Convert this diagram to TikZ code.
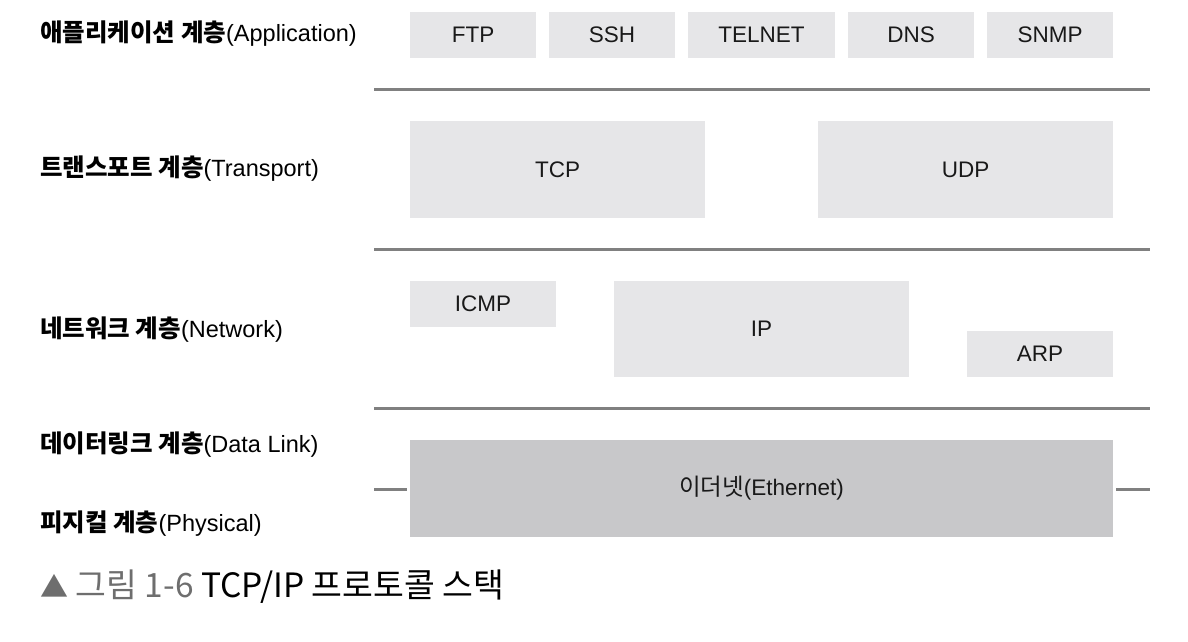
\documentclass[tikz,border=0pt]{standalone}
\usepackage{fontspec}
\setmainfont{Liberation Sans}
\newfontfamily\kr{Noto Sans CJK KR}
\definecolor{boxlight}{HTML}{E6E6E8}
\definecolor{boxdark}{HTML}{C8C8CA}
\definecolor{rule}{HTML}{808080}
\definecolor{capgrey}{HTML}{6E6E6E}
\begin{document}
\begin{tikzpicture}[x=1pt,y=-1pt,
  lbox/.style={fill=boxlight, draw=none, inner sep=0pt, font=\fontsize{22.5}{26}\selectfont, text=black!90},
  dbox/.style={fill=boxdark, draw=none, inner sep=0pt, font=\fontsize{22.5}{26}\selectfont, text=black!90},
  sep/.style={draw=rule, line width=3pt},
  lay/.style={anchor=west, inner sep=0pt, font=\fontsize{23.5}{26}\selectfont}]
\useasboundingbox (0,0) rectangle (1188,642);
% application
\node[lbox, minimum width=126pt, minimum height=46pt] (ftp) at (473,35) {FTP};
\node[lbox, minimum width=126pt, minimum height=46pt] (ssh) at (612,35) {SSH};
\node[lbox, minimum width=147pt, minimum height=46pt] (telnet) at (761.5,35) {TELNET};
\node[lbox, minimum width=126pt, minimum height=46pt] (dns) at (911,35) {DNS};
\node[lbox, minimum width=126pt, minimum height=46pt] (snmp) at (1050,35) {SNMP};
% transport
\node[lbox, minimum width=295pt, minimum height=97pt] (tcp) at (557.5,169.5) {TCP};
\node[lbox, minimum width=295pt, minimum height=97pt] (udp) at (965.5,169.5) {UDP};
% network
\node[lbox, minimum width=146pt, minimum height=46pt] (icmp) at (483,304) {ICMP};
\node[lbox, minimum width=295pt, minimum height=96pt] (ip) at (761.5,329) {IP};
\node[lbox, minimum width=146pt, minimum height=46pt] (arp) at (1040,354) {ARP};
% link
\node[dbox, minimum width=703pt, minimum height=97pt] (eth) at (761.5,488.5) {{\kr\fontsize{23.5}{26}\selectfont 이더넷}(Ethernet)};
% separators
\coordinate (l1a) at (374,89); \coordinate (l1b) at (1150,89);
\coordinate (l2a) at (374,249); \coordinate (l2b) at (1150,249);
\coordinate (l3a) at (374,408); \coordinate (l3b) at (1150,408);
\coordinate (e1) at (374,489); \coordinate (e2) at (1150,489);
\draw[sep] (l1a) -- (l1b);
\draw[sep] (l2a) -- (l2b);
\draw[sep] (l3a) -- (l3b);
\draw[sep] (e1) -- ([xshift=-3pt]eth.west |- e1);
\draw[sep] ([xshift=3pt]eth.east |- e2) -- (e2);
% layer labels
\node[lay] (la) at (40,34) {{\kr\bfseries\fontsize{24.5}{26}\selectfont 애플리케이션 계층}(Application)};
\node[lay] (lt) at (40,169) {{\kr\bfseries\fontsize{24.5}{26}\selectfont 트랜스포트 계층}(Transport)};
\node[lay] (ln) at (40,330) {{\kr\bfseries\fontsize{24.5}{26}\selectfont 네트워크 계층}(Network)};
\node[lay] (ld) at (40,445) {{\kr\bfseries\fontsize{24.5}{26}\selectfont 데이터링크 계층}(Data Link)};
\node[lay] (lp) at (40,524) {{\kr\bfseries\fontsize{24.5}{26}\selectfont 피지컬 계층}(Physical)};
% caption
\node[anchor=west, inner sep=0pt, font=\kr\fontsize{33.5}{36}\selectfont] (cap) at (40,587) {\textcolor{capgrey}{{\fontsize{28}{36}\selectfont ▲} 그림 1-6} TCP/IP 프로토콜 스택};
\end{tikzpicture}
\end{document}
